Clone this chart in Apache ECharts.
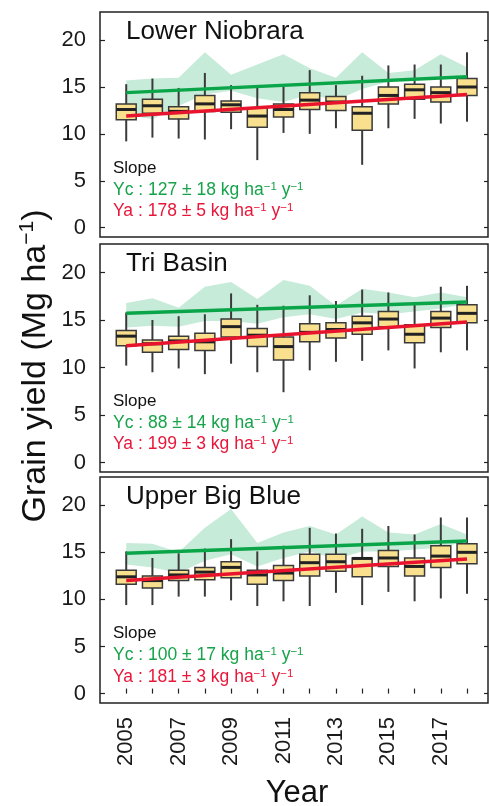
<!DOCTYPE html>
<html><head><meta charset="utf-8">
<script src="https://cdn.jsdelivr.net/npm/echarts@6/dist/echarts.min.js"></script>
<style>html,body{margin:0;padding:0;background:#fff}#c{width:489px;height:806px}</style>
</head><body><div id="c"></div>
<script>
const years = [2005,2006,2007,2008,2009,2010,2011,2012,2013,2014,2015,2016,2017,2018];
const xTickLabels = [2005,2007,2009,2011,2013,2015,2017];
const yTicks = [0,5,10,15,20];
const regionNames = ['Lower Niobrara','Tri Basin','Upper Big Blue'];

// boxes: [min, Q1, median, Q3, max] per year
const boxLowerNiobrara = [
  [9.2,11.5,12.6,13.2,15.3],[9.6,12.2,13.0,13.7,15.9],[9.5,11.6,12.4,12.9,14.9],[9.4,12.4,13.2,14.1,16.5],
  [10.5,12.3,13.1,13.5,15.2],[7.2,10.7,11.9,12.8,14.9],[10.1,11.8,12.6,13.2,15.0],[10.0,12.6,13.6,14.4,16.8],
  [10.6,12.5,13.4,14.0,15.2],[6.7,10.4,12.2,12.9,16.2],[10.6,13.2,14.1,15.0,17.3],[11.6,13.7,14.7,15.3,17.4],
  [11.1,13.4,14.4,15.0,17.4],[11.3,14.1,15.0,15.9,18.7]
];
const boxTriBasin = [
  [10.2,12.3,13.3,13.9,15.8],[9.5,11.6,12.5,12.9,15.0],[9.9,11.9,12.8,13.3,15.4],[9.3,11.8,12.7,13.6,15.6],
  [10.4,13.2,14.3,15.1,17.8],[9.5,12.2,13.4,14.1,16.6],[7.4,10.8,12.2,13.2,16.5],[9.7,12.7,13.7,14.6,17.6],
  [10.6,13.1,14.0,14.7,17.0],[10.7,13.5,14.7,15.4,18.2],[11.8,14.3,15.1,15.9,17.9],[9.9,12.6,13.5,14.5,16.9],
  [11.6,14.2,15.2,15.9,18.5],[11.8,14.7,15.7,16.6,18.6]
];
const boxUpperBigBlue = [
  [9.4,11.6,12.4,13.1,15.1],[9.4,11.2,12.0,12.5,14.4],[10.3,12.0,12.6,13.1,14.9],[10.3,12.1,12.9,13.4,15.4],
  [9.9,12.3,13.4,14.0,16.4],[9.3,11.6,12.6,13.1,15.1],[9.8,12.0,12.8,13.6,15.7],[9.3,12.5,13.9,14.8,17.6],
  [10.7,13.0,14.0,14.8,17.0],[9.4,12.4,14.35,14.4,17.5],[10.8,13.5,14.4,15.2,17.8],[9.8,12.5,13.5,14.4,16.9],
  [10.1,13.4,14.6,15.7,18.7],[10.6,13.8,15.0,15.9,18.7]
];

// shaded Yc range (lower / upper edges)
const bandLowLowerNiobrara = [12.0,11.6,13.0,14.2,14.6,13.8,13.4,14.2,13.6,14.8,15.6,15.8,15.9,16.0];
const bandHighLowerNiobrara = [15.7,15.9,16.0,18.7,16.3,17.4,18.5,17.0,16.0,18.7,16.5,16.8,18.5,17.1];
const bandLowTriBasin = [14.2,14.4,14.3,14.9,14.9,14.6,15.3,15.6,15.1,15.8,15.6,15.9,16.2,16.7];
const bandHighTriBasin = [16.8,17.3,16.3,18.5,19.0,17.2,19.2,18.6,16.5,18.3,17.9,17.4,17.9,17.4];
const bandLowUpperBigBlue = [13.7,13.4,12.8,14.1,14.8,13.5,14.4,15.1,14.3,15.1,15.1,15.3,15.5,16.2];
const bandHighUpperBigBlue = [16.0,15.9,15.0,17.6,19.6,16.0,17.1,17.8,16.9,18.8,17.1,16.9,18.0,16.9];

// trend lines, values at 2005 and 2018
const ycTrend = [[14.4,16.1],[15.7,16.9],[14.9,16.2]];
const yaTrend = [[11.9,14.2],[12.3,14.8],[12.0,14.3]];
const ycSlopeText = ['127 ± 18','88 ± 14','100 ± 17'];
const yaSlopeText = ['178 ± 5','199 ± 3','181 ± 3'];

const boxes = [boxLowerNiobrara, boxTriBasin, boxUpperBigBlue];
const bandLow = [bandLowLowerNiobrara, bandLowTriBasin, bandLowUpperBigBlue];
const bandHigh = [bandHighLowerNiobrara, bandHighTriBasin, bandHighUpperBigBlue];

const F = "'Liberation Sans', Arial, sans-serif";
const GREEN = '#0aa548', RED = '#e8142e', GREEN_T = '#17a34a', RED_T = '#e8173a';
const grids = [
  {left:100, top:12, width:388, height:225},
  {left:100, top:244, width:388, height:228},
  {left:100, top:477, width:388, height:226}
];
const textY = [
  {title:31.5, slope:168, yc:190, ya:211},
  {title:264, slope:401, yc:423, ya:444},
  {title:497, slope:633, yc:655, ya:677}
];

const chart = echarts.init(document.getElementById('c'));
const xAxes = [], yAxes = [], series = [], graphics = [];
grids.forEach((g, i) => {
  Object.assign(g, {show:true, borderColor:'#222', borderWidth:1.5, backgroundColor:'transparent'});
  const last = i === 2;
  xAxes.push({
    gridIndex:i, type:'value', min:2004, max:2018.8,
    axisLine:{show:false}, splitLine:{show:false},
    axisTick: last ? {inside:true, length:5, customValues:years, lineStyle:{color:'#222', width:1.2}} : {show:false},
    axisLabel: last ? {customValues:xTickLabels, rotate:90, fontSize:22, margin:14, color:'#1a1a1a', fontFamily:F, formatter:v=>String(v)} : {show:false}
  });
  yAxes.push({
    gridIndex:i, type:'value', min:-1, max:23,
    axisLine:{show:false}, splitLine:{show:false},
    axisTick:{inside:true, length:5, customValues:yTicks, lineStyle:{color:'#222', width:1.2}},
    axisLabel:{customValues:yTicks, fontSize:22, margin:14, color:'#1a1a1a', fontFamily:F}
  });
  yAxes.push({
    gridIndex:i, type:'value', min:-1, max:23, position:'right',
    axisLine:{show:false}, splitLine:{show:false},
    axisTick:{inside:true, length:4, customValues:yTicks, lineStyle:{color:'#222', width:1.2}},
    axisLabel:{show:false}
  });
  const lo = bandLow[i], hi = bandHigh[i];
  series.push({
    type:'custom', xAxisIndex:i, yAxisIndex:2*i, silent:true,
    data: years.map((y,k)=>[y, lo[k], hi[k]]),
    encode:{x:0, y:[1,2]},
    renderItem:(params, api) => {
      if (params.dataIndex !== 0) return null;
      const top = years.map((y,k)=>api.coord([y, hi[k]]));
      const bot = years.map((y,k)=>api.coord([y, lo[k]])).reverse();
      return {type:'polygon', shape:{points:top.concat(bot)}, style:{fill:'#c6ebd9'}};
    }
  });
  series.push({
    type:'custom', xAxisIndex:i, yAxisIndex:2*i, silent:true,
    data: years.map((y,k)=>[y].concat(boxes[i][k])),
    encode:{x:0, y:[1,2,3,4,5]},
    renderItem:(params, api) => {
      const x = api.value(0);
      const pMin = api.coord([x, api.value(1)]);
      const pQ1 = api.coord([x, api.value(2)]);
      const pMed = api.coord([x, api.value(3)]);
      const pQ3 = api.coord([x, api.value(4)]);
      const pMax = api.coord([x, api.value(5)]);
      const hw = api.size([1,0])[0] * 0.38;
      return {type:'group', children:[
        {type:'line', shape:{x1:pMax[0], y1:pMax[1], x2:pMin[0], y2:pMin[1]}, style:{stroke:'#3a3a3a', lineWidth:2}},
        {type:'rect', shape:{x:pQ3[0]-hw, y:pQ3[1], width:hw*2, height:pQ1[1]-pQ3[1]}, style:{fill:'#f9e08e', stroke:'#3a3a3a', lineWidth:1.5}},
        {type:'line', shape:{x1:pMed[0]-hw, y1:pMed[1], x2:pMed[0]+hw, y2:pMed[1]}, style:{stroke:'#222', lineWidth:3}}
      ]};
    }
  });
  series.push({
    type:'line', xAxisIndex:i, yAxisIndex:2*i, silent:true, symbol:'none',
    data:[[years[0], ycTrend[i][0]],[years[years.length-1], ycTrend[i][1]]],
    lineStyle:{color:GREEN, width:3.5}
  });
  series.push({
    type:'line', xAxisIndex:i, yAxisIndex:2*i, silent:true, symbol:'none',
    data:[[years[0], yaTrend[i][0]],[years[years.length-1], yaTrend[i][1]]],
    lineStyle:{color:RED, width:3.5}
  });
  const t = textY[i];
  graphics.push({type:'text', x:126, y:t.title, z:10, style:{text:regionNames[i], fontSize:26, fontFamily:F, fill:'#111', verticalAlign:'middle', align:'left'}});
  graphics.push({type:'text', x:113, y:t.slope, z:10, style:{text:'Slope', fontSize:17, fontFamily:F, fill:'#111', verticalAlign:'middle', align:'left'}});
  const mk = (label, val, col) => ({
    text:'{m|' + label + ' : ' + val + ' kg ha}{s|−1}{m| y}{s|−1}',
    verticalAlign:'middle', align:'left',
    rich:{m:{fontSize:17.5, fontFamily:F, fill:col, lineHeight:19}, s:{fontSize:11.5, fontFamily:F, fill:col, verticalAlign:'top'}}
  });
  graphics.push({type:'text', x:113, y:t.yc, z:10, style:mk('Yc', ycSlopeText[i], GREEN_T)});
  graphics.push({type:'text', x:113, y:t.ya, z:10, style:mk('Ya', yaSlopeText[i], RED_T)});
});
graphics.push({type:'text', x:36, y:366, rotation:Math.PI/2, z:10, style:{
  text:'{m|Grain yield (Mg ha}{s|−1}{m|)}', align:'center', verticalAlign:'middle',
  rich:{m:{fontSize:34, fontFamily:F, fill:'#111', lineHeight:38}, s:{fontSize:21, fontFamily:F, fill:'#111', verticalAlign:'top'}}
}});
graphics.push({type:'text', x:297, y:793, z:10, style:{text:'Year', fontSize:31, fontFamily:F, fill:'#111', align:'center', verticalAlign:'middle'}});

chart.setOption({
  animation:false,
  backgroundColor:'#fff',
  grid:grids, xAxis:xAxes, yAxis:yAxes, series:series, graphic:graphics
});
</script></body></html>
